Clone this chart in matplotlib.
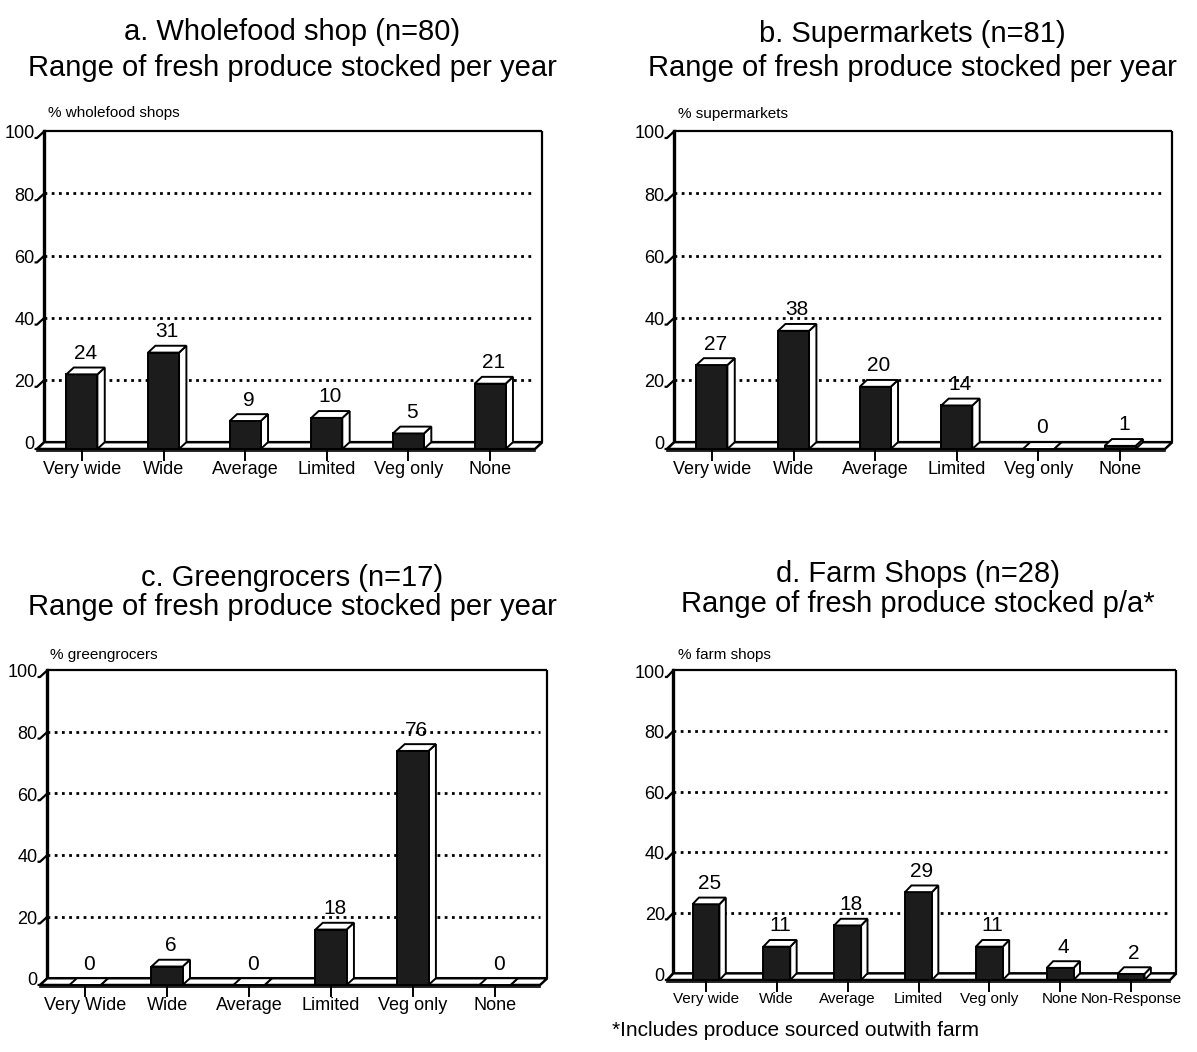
import matplotlib
matplotlib.use("Agg")
import matplotlib.pyplot as plt
from matplotlib.patches import Polygon, Rectangle

plt.rcParams["font.family"] = ["Liberation Sans", "DejaVu Sans"]

# ============ data ============
CATS_A = ["Very wide", "Wide", "Average", "Limited", "Veg only", "None"]
VALS_A = [24, 31, 9, 10, 5, 21]

CATS_B = ["Very wide", "Wide", "Average", "Limited", "Veg only", "None"]
VALS_B = [27, 38, 20, 14, 0, 1]

CATS_C = ["Very Wide", "Wide", "Average", "Limited", "Veg only", "None"]
VALS_C = [0, 6, 0, 18, 76, 0]

CATS_D = ["Very wide", "Wide", "Average", "Limited", "Veg only", "None", "Non-Response"]
VALS_D = [25, 11, 18, 29, 11, 4, 2]

YTICKS = [0, 20, 40, 60, 80, 100]

W, H = 1197, 1052
BAR_W = 0.38
DX = 0.09     # depth offset, category units
DY = 2.2      # depth offset, percent units
DARK = "#1c1c1c"


def fx(px):
    return px / W


def fy(py):
    return 1 - py / H


def draw_panel(fig, cats, vals, box, titles, title_xy, ylabel, ylabel_xy,
               xlab_size=13):
    left, right, y0, y100 = box
    n = len(cats)
    ax = fig.add_axes([fx(left), fy(y0), fx(right - left), (y0 - y100) / H])
    x0, x1 = -0.55, n - 0.45
    ax.set_xlim(x0, x1)
    ax.set_ylim(0, 100)
    ax.axis("off")
    kw = dict(color="black", lw=1.6, clip_on=False, solid_capstyle="butt")

    # back wall frame
    ax.plot([x0 + DX, x0 + DX], [DY, 100 + DY], color="black", lw=2.4, clip_on=False)
    ax.plot([x0 + DX, x1 + DX], [100 + DY, 100 + DY], **kw)
    ax.plot([x1 + DX, x1 + DX], [DY, 100 + DY], **kw)

    # dotted gridlines on the back wall + slanted ticks
    for v in YTICKS:
        if 0 < v < 100:
            ax.plot([x0 + DX, x1], [v + DY, v + DY], color="black", lw=2.0,
                    ls=(0, (1, 1.6)), clip_on=False, zorder=1)
        ax.plot([x0 - 0.03, x0, x0 + DX], [v, v, v + DY], **kw)
        ax.text(x0 - 0.03, v + DY * 0.6, str(v), ha="right", va="center",
                fontsize=13, clip_on=False)

    # floor slab
    floor = Polygon([(x0, 0), (x1, 0), (x1 + DX, DY), (x0 + DX, DY)],
                    closed=True, facecolor="white", edgecolor="black", lw=1.8,
                    zorder=2, clip_on=False)
    ax.add_patch(floor)
    ax.plot([x0, x1], [-0.6, -0.6], color="black", lw=1.2, clip_on=False, zorder=2)

    for i, (c, v) in enumerate(zip(cats, vals)):
        l, r = i - BAR_W / 2, i + BAR_W / 2
        front = Rectangle((l, 0), BAR_W, v, facecolor=DARK, edgecolor="black",
                          lw=1.4, zorder=4, clip_on=False)
        side = Polygon([(r, 0), (r + DX, DY), (r + DX, v + DY), (r, v)],
                       closed=True, facecolor="white", edgecolor="black",
                       lw=1.4, zorder=3, clip_on=False)
        top = Polygon([(l, v), (r, v), (r + DX, v + DY), (l + DX, v + DY)],
                      closed=True, facecolor="white", edgecolor="black",
                      lw=1.4, zorder=5, clip_on=False)
        ax.add_patch(side)
        ax.add_patch(front)
        ax.add_patch(top)
        ax.text(i + DX / 2, v + DY + 1.5, str(v), ha="center", va="bottom",
                fontsize=15, zorder=6, clip_on=False)
        # x tick + label
        ax.plot([i, i], [-0.6, -3.5], color="black", lw=1.4, clip_on=False)
        ax.text(i, -3.8, c, ha="center", va="top", fontsize=xlab_size, clip_on=False)

    tx, ty1, ty2 = title_xy
    fig.text(fx(tx), fy(ty1), titles[0], ha="center", va="center", fontsize=21)
    fig.text(fx(tx), fy(ty2), titles[1], ha="center", va="center", fontsize=21)
    fig.text(fx(ylabel_xy[0]), fy(ylabel_xy[1]), ylabel, ha="left", va="center",
             fontsize=11)
    return ax


fig = plt.figure(figsize=(W / 100, H / 100), dpi=100)
fig.patch.set_facecolor("white")

draw_panel(fig, CATS_A, VALS_A, (37, 535, 449, 138),
           ("a. Wholefood shop (n=80)", "Range of fresh produce stocked per year"),
           (292, 32, 68), "% wholefood shops", (48, 113))

draw_panel(fig, CATS_B, VALS_B, (667, 1165, 449, 138),
           ("b. Supermarkets (n=81)", "Range of fresh produce stocked per year"),
           (912, 34, 68), "% supermarkets", (678, 114))

draw_panel(fig, CATS_C, VALS_C, (40, 540, 985, 677),
           ("c. Greengrocers (n=17)", "Range of fresh produce stocked per year"),
           (292, 578, 607), "% greengrocers", (50, 655))

draw_panel(fig, CATS_D, VALS_D, (667, 1170, 980, 677),
           ("d. Farm Shops (n=28)", "Range of fresh produce stocked p/a*"),
           (918, 574, 604), "% farm shops", (678, 655), xlab_size=11)

fig.text(fx(612), fy(1030), "*Includes produce sourced outwith farm",
         ha="left", va="center", fontsize=15)

fig.savefig("out.png", dpi=100)
